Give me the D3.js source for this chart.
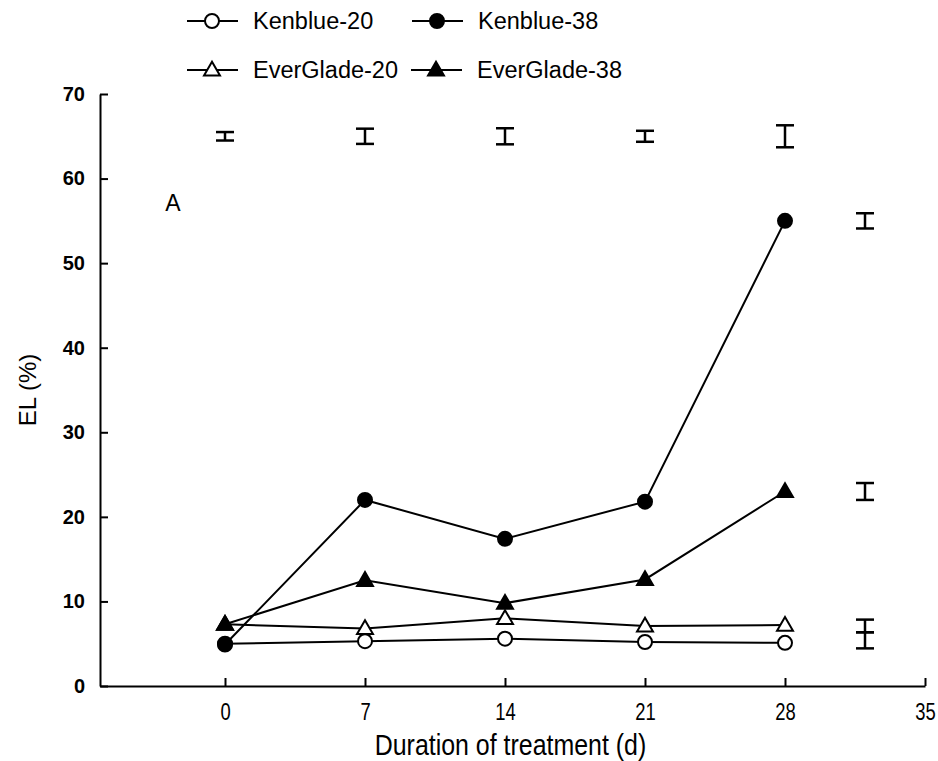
<!DOCTYPE html>
<html>
<head>
<meta charset="utf-8">
<script src="https://cdn.jsdelivr.net/npm/d3@7"></script>
<style>
  body { margin: 0; background: #fff; }
  svg text { fill: #000; }
</style>
</head>
<body>
<div id="chart"></div>
<script>
// data
var days = [0, 7, 14, 21, 28];
var kenblue20 = [5.0, 5.3, 5.6, 5.2, 5.1];
var kenblue38 = [4.9, 22.0, 17.4, 21.8, 55.0];
var everglade20 = [7.3, 6.8, 8.0, 7.1, 7.2];
var everglade38 = [7.3, 12.5, 9.8, 12.6, 23.0];

// LSD bars per day (top row) and per series (right column)
var lsdTopMean = [65, 65, 65, 65, 65];
var lsdTopHalf = [0.5, 0.9, 0.95, 0.65, 1.3];
var lsdRightDay = 32;
var lsdRightMean = [55.0, 23.0, 7.1, 5.4];
var lsdRightHalf = [0.9, 1.0, 0.75, 0.95];

var xTicks = [0, 7, 14, 21, 28, 35];
var yTicks = [0, 10, 20, 30, 40, 50, 60, 70];

var W = 938, H = 761;
var svg = d3.select("#chart").append("svg")
    .attr("width", W).attr("height", H);

var x = d3.scaleLinear().domain([-6.25, 35]).range([100, 925]);
var y = d3.scaleLinear().domain([0, 70]).range([686, 94]);

// axes
var xAxis = svg.append("g")
    .attr("transform", "translate(0," + y(0) + ")")
    .call(d3.axisBottom(x).tickValues(xTicks).tickSizeInner(-8).tickSizeOuter(0).tickPadding(18));
// narrow face: squeeze the regular sans horizontally
xAxis.selectAll("text")
    .attr("transform", "scale(0.8,1)")
    .style("font-family", "'Liberation Sans', Arial, sans-serif")
    .style("font-size", "23px");

var yAxis = svg.append("g")
    .attr("transform", "translate(" + x(-6.25) + ",0)")
    .call(d3.axisLeft(y).tickValues(yTicks).tickSizeInner(-8).tickSizeOuter(0).tickPadding(15));
yAxis.selectAll("text")
    .style("font-family", "'Liberation Sans', Arial, sans-serif")
    .style("font-weight", "bold")
    .style("font-size", "20px");

svg.selectAll(".domain, .tick line").attr("stroke", "#000").attr("stroke-width", 2);

// axis titles
svg.append("text")
    .attr("transform", "translate(" + ((x(-6.25) + x(35)) / 2 - 2) + ",755) scale(0.86,1)")
    .attr("text-anchor", "middle")
    .style("font-family", "'Liberation Sans', Arial, sans-serif")
    .style("font-size", "29px")
    .text("Duration of treatment (d)");

svg.append("text")
    .attr("transform", "translate(36," + y(35) + ") rotate(-90)")
    .attr("text-anchor", "middle")
    .style("font-family", "'Liberation Sans', Arial, sans-serif")
    .style("font-size", "24px")
    .text("EL (%)");

svg.append("text")
    .attr("x", x(-2.6)).attr("y", y(56.9))
    .attr("text-anchor", "middle").attr("dominant-baseline", "middle")
    .style("font-family", "'Liberation Sans', Arial, sans-serif")
    .style("font-size", "23px")
    .text("A");

// series
var series = [
  { name: "Kenblue-20", values: kenblue20, shape: "circle", fill: "#fff" },
  { name: "Kenblue-38", values: kenblue38, shape: "circle", fill: "#000" },
  { name: "EverGlade-20", values: everglade20, shape: "triangle", fill: "#fff" },
  { name: "EverGlade-38", values: everglade38, shape: "triangle", fill: "#000" }
];

var line = d3.line().x(function(d, i) { return x(days[i]); }).y(function(d) { return y(d); });

function marker(g, s, cx, cy) {
  if (s.shape === "circle") {
    g.append("circle").attr("cx", cx).attr("cy", cy).attr("r", 7)
      .attr("fill", s.fill).attr("stroke", "#000").attr("stroke-width", 2);
  } else {
    g.append("path")
      .attr("d", d3.symbol().type(d3.symbolTriangle).size(110)())
      .attr("transform", "translate(" + cx + "," + (cy + 1) + ")")
      .attr("fill", s.fill).attr("stroke", "#000").attr("stroke-width", 2);
  }
}

// draw lines first, then markers (filled ones last so they sit on top)
var order = [2, 0, 3, 1];
order.forEach(function(k) {
  svg.append("path").datum(series[k].values)
    .attr("d", line).attr("fill", "none").attr("stroke", "#000").attr("stroke-width", 2);
});
order.forEach(function(k) {
  var g = svg.append("g");
  series[k].values.forEach(function(v, i) { marker(g, series[k], x(days[i]), y(v)); });
});

// LSD bars
function lsd(g, xd, m, h) {
  var cx = x(xd), y0 = y(m - h), y1 = y(m + h);
  g.append("line").attr("x1", cx).attr("x2", cx).attr("y1", y0).attr("y2", y1);
  g.append("line").attr("x1", cx - 9).attr("x2", cx + 9).attr("y1", y0).attr("y2", y0);
  g.append("line").attr("x1", cx - 9).attr("x2", cx + 9).attr("y1", y1).attr("y2", y1);
}
var bars = svg.append("g").attr("stroke", "#000").attr("stroke-width", 2.5);
days.forEach(function(d, i) { lsd(bars, d, lsdTopMean[i], lsdTopHalf[i]); });
lsdRightMean.forEach(function(m, i) { lsd(bars, lsdRightDay, m, lsdRightHalf[i]); });

// legend
var legPos = [[212, 21], [437, 21], [212, 70], [436, 70]];
series.forEach(function(s, i) {
  var g = svg.append("g");
  var cx = legPos[i][0], cy = legPos[i][1];
  g.append("line").attr("x1", cx - 25).attr("x2", cx + 26).attr("y1", cy).attr("y2", cy)
    .attr("stroke", "#000").attr("stroke-width", 2);
  marker(g, s, cx, cy);
  g.append("text").attr("x", cx + 41).attr("y", cy)
    .attr("dominant-baseline", "central")
    .style("font-family", "'Liberation Sans', Arial, sans-serif")
    .style("font-size", "23.5px")
    .text(s.name);
});
</script>
</body>
</html>
